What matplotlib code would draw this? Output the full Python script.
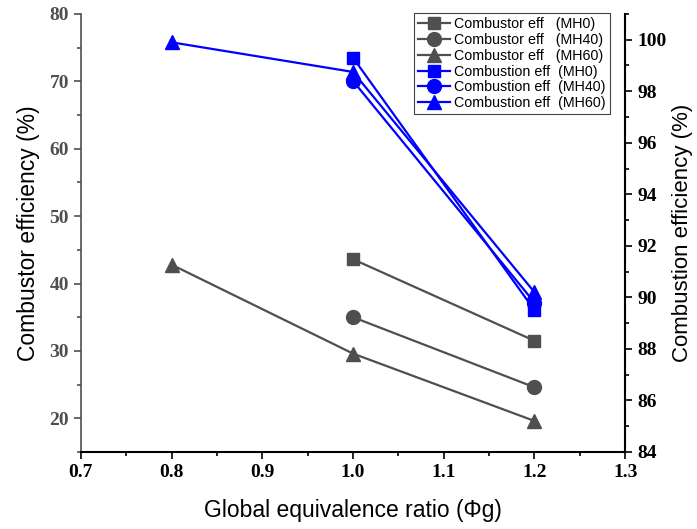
import matplotlib
matplotlib.use("Agg")
import matplotlib.pyplot as plt
from matplotlib.ticker import MultipleLocator

# global equivalence ratio
phi_mh0 = [1.0, 1.2]
phi_mh40 = [1.0, 1.2]
phi_mh60 = [0.8, 1.0, 1.2]

# combustor efficiency (%) - left axis
combustor_mh0 = [43.6, 31.5]
combustor_mh40 = [35.0, 24.6]
combustor_mh60 = [42.8, 29.6, 19.6]

# combustion efficiency (%) - right axis
combustion_mh0 = [99.3, 89.5]
combustion_mh40 = [98.4, 89.8]
combustion_mh60 = [99.9, 98.75, 90.2]

gray = "#4f4f4f"
blue = "#0000ff"
tick_font = {"family": "Liberation Serif", "weight": "bold", "size": 14}

fig = plt.figure(figsize=(6.97, 5.29), dpi=100)
ax = fig.add_axes([0.116, 0.1456, 0.781, 0.828])
ax2 = ax.twinx()

lw, ms = 1.6, 9
l1, = ax.plot(phi_mh0, combustor_mh0, color=gray, marker="s", lw=lw, ms=ms, label="Combustor eff   (MH0)")
l2, = ax.plot(phi_mh40, combustor_mh40, color=gray, marker="o", lw=lw, ms=ms + 1, label="Combustor eff   (MH40)")
l3, = ax.plot(phi_mh60, combustor_mh60, color=gray, marker="^", lw=lw, ms=ms + 1, label="Combustor eff   (MH60)")
l4, = ax2.plot(phi_mh0, combustion_mh0, color=blue, marker="s", lw=lw, ms=ms, label="Combustion eff  (MH0)")
l5, = ax2.plot(phi_mh40, combustion_mh40, color=blue, marker="o", lw=lw, ms=ms + 1, label="Combustion eff  (MH40)")
l6, = ax2.plot(phi_mh60, combustion_mh60, color=blue, marker="^", lw=lw, ms=ms + 1, label="Combustion eff  (MH60)")

ax.set_xlim(0.7, 1.3)
ax.set_ylim(15, 80)
ax2.set_ylim(84, 101)

ax.xaxis.set_major_locator(MultipleLocator(0.1))
ax.xaxis.set_minor_locator(MultipleLocator(0.05))
ax.yaxis.set_major_locator(MultipleLocator(10))
ax.yaxis.set_minor_locator(MultipleLocator(5))
ax2.yaxis.set_major_locator(MultipleLocator(2))
ax2.yaxis.set_minor_locator(MultipleLocator(1))

for a in (ax, ax2):
    a.spines["top"].set_visible(False)
    a.tick_params(which="major", direction="out", length=5, width=1.2)
    a.tick_params(which="minor", direction="out", length=3, width=1.2)

ax.spines["left"].set_color(gray)
ax.spines["left"].set_linewidth(1.2)
ax.spines["left"].set_bounds(15, 80)
ax.spines["bottom"].set_linewidth(1.5)
ax.spines["right"].set_visible(False)
ax2.spines["left"].set_visible(False)
ax2.spines["bottom"].set_visible(False)
ax2.spines["right"].set_linewidth(1.5)
ax.tick_params(axis="y", which="both", colors=gray)

ax.set_xticklabels([f"{v:.1f}" for v in ax.get_xticks()], fontdict=tick_font)
ax.set_yticklabels([f"{v:.0f}" for v in ax.get_yticks()], fontdict=tick_font, color=gray)
ax2.set_yticklabels([f"{v:.0f}" for v in ax2.get_yticks()], fontdict=tick_font)

label_font = {"family": "Liberation Sans", "size": 16.5}
ax.set_xlabel("Global equivalence ratio (\u03a6g)", fontdict=label_font, labelpad=13)
ax.set_ylabel("Combustor efficiency (%)", fontdict=label_font, labelpad=7)
ax2.set_ylabel("Combustion efficiency (%)", fontdict={"family": "Liberation Sans", "size": 16}, labelpad=4)

leg = ax2.legend(handles=[l1, l2, l3, l4, l5, l6], loc="upper right",
                 bbox_to_anchor=(0.972, 1.002), borderaxespad=0,
                 prop={"family": "Liberation Sans", "size": 10.3},
                 fancybox=False, framealpha=1, edgecolor="#444444",
                 handlelength=2.2, handletextpad=0.3, labelspacing=0.12, borderpad=0.3)
leg.get_frame().set_linewidth(0.8)

fig.savefig("out.png", dpi=100)
